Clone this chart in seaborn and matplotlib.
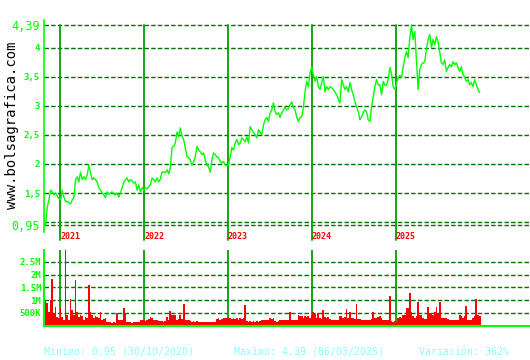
import numpy as np
import pandas as pd
import matplotlib
matplotlib.use("Agg")
import matplotlib.pyplot as plt
import matplotlib.dates as mdates
import seaborn as sns

# ---------------- data ----------------
start_date = "2020-10-30"
end_date = "2025-12-31"

price = [
    0.95, 1.26, 1.38, 1.55, 1.52, 1.47, 1.50, 1.45, 1.40, 1.38,
    1.55, 1.43, 1.35, 1.36, 1.33, 1.31, 1.38, 1.42, 1.73, 1.78,
    1.69, 1.86, 1.73, 1.78, 1.73, 1.81, 1.98, 1.85, 1.73, 1.76,
    1.73, 1.69, 1.59, 1.55, 1.50, 1.47, 1.42, 1.52, 1.48, 1.50,
    1.52, 1.48, 1.47, 1.50, 1.43, 1.50, 1.59, 1.69, 1.73, 1.76,
    1.69, 1.73, 1.71, 1.67, 1.69, 1.55, 1.64, 1.52, 1.59, 1.55,
    1.59, 1.57, 1.61, 1.64, 1.76, 1.73, 1.69, 1.76, 1.69, 1.74,
    1.86, 1.86, 1.85, 1.90, 1.83, 1.93, 2.28, 2.30, 2.36, 2.55,
    2.47, 2.62, 2.48, 2.42, 2.28, 2.12, 2.11, 2.07, 1.98, 2.04,
    2.12, 2.30, 2.24, 2.21, 2.16, 2.19, 2.07, 1.98, 1.95, 1.86,
    2.07, 2.19, 2.16, 2.12, 2.11, 2.04, 2.02, 2.04, 1.98, 1.97,
    1.98, 2.12, 2.28, 2.24, 2.36, 2.42, 2.33, 2.36, 2.45, 2.42,
    2.38, 2.47, 2.36, 2.64, 2.59, 2.54, 2.50, 2.45, 2.59, 2.54,
    2.50, 2.67, 2.76, 2.80, 2.73, 2.88, 2.93, 3.05, 2.90, 2.85,
    2.88, 2.80, 2.88, 2.93, 2.97, 2.93, 2.95, 3.02, 3.07, 2.97,
    2.93, 2.81, 2.73, 2.80, 2.81, 2.97, 3.24, 3.42, 3.33, 3.57,
    3.66, 3.54, 3.42, 3.50, 3.33, 3.28, 3.40, 3.50, 3.24, 3.33,
    3.28, 3.33, 3.31, 3.28, 3.24, 3.19, 3.11, 3.05, 3.45, 3.36,
    3.28, 3.33, 3.24, 3.40, 3.28, 3.19, 3.07, 2.98, 2.90, 2.76,
    2.81, 2.88, 2.93, 2.90, 2.76, 2.73, 2.98, 3.16, 3.33, 3.45,
    3.36, 3.36, 3.19, 3.42, 3.35, 3.36, 3.45, 3.66, 3.55, 3.33,
    3.28, 3.38, 3.49, 3.52, 3.49, 3.66, 3.83, 3.93, 3.83, 4.17,
    4.39, 4.14, 4.28, 3.79, 3.28, 3.62, 3.71, 3.74, 3.76, 3.97,
    4.14, 4.23, 4.00, 4.14, 4.05, 4.19, 4.10, 3.92, 3.74, 3.71,
    3.79, 3.59, 3.66, 3.71, 3.67, 3.76, 3.71, 3.74, 3.66, 3.59,
    3.67, 3.54, 3.49, 3.42, 3.45, 3.36, 3.40, 3.33, 3.45, 3.36,
    3.28, 3.23,
]

volume_m = [
    1.00, 0.87, 0.55, 1.00, 1.84, 0.48, 0.74, 0.35, 0.29, 0.68,
    0.35, 0.22, 3.20, 0.42, 0.22, 1.04, 0.61, 0.42, 1.78, 0.55,
    0.35, 0.42, 0.39, 0.22, 0.35, 0.30, 1.58, 0.55, 0.42, 0.29,
    0.39, 0.35, 0.30, 0.55, 0.22, 0.25, 0.29, 0.12, 0.15, 0.12,
    0.10, 0.12, 0.10, 0.48, 0.22, 0.20, 0.22, 0.70, 0.48, 0.13,
    0.12, 0.13, 0.10, 0.13, 0.12, 0.15, 0.13, 0.22, 0.20, 0.22,
    0.18, 0.22, 0.25, 0.35, 0.30, 0.22, 0.20, 0.22, 0.16, 0.16,
    0.18, 0.15, 0.16, 0.35, 0.20, 0.57, 0.42, 0.40, 0.42, 0.22,
    0.25, 0.40, 0.25, 0.84, 0.22, 0.20, 0.22, 0.16, 0.15, 0.16,
    0.14, 0.16, 0.13, 0.15, 0.13, 0.12, 0.15, 0.13, 0.14, 0.12,
    0.13, 0.15, 0.12, 0.25, 0.29, 0.22, 0.25, 0.30, 0.28, 0.29,
    0.29, 0.30, 0.25, 0.29, 0.25, 0.30, 0.22, 0.29, 0.25, 0.30,
    0.81, 0.17, 0.15, 0.17, 0.12, 0.17, 0.15, 0.17, 0.13, 0.17,
    0.20, 0.23, 0.20, 0.23, 0.22, 0.29, 0.25, 0.29, 0.17, 0.15,
    0.17, 0.23, 0.20, 0.23, 0.20, 0.23, 0.20, 0.55, 0.23, 0.20,
    0.23, 0.22, 0.42, 0.36, 0.36, 0.30, 0.36, 0.33, 0.36, 0.30,
    0.36, 0.55, 0.45, 0.29, 0.51, 0.29, 0.26, 0.59, 0.33, 0.30,
    0.33, 0.26, 0.23, 0.23, 0.20, 0.23, 0.20, 0.38, 0.38, 0.30,
    0.33, 0.65, 0.30, 0.55, 0.29, 0.29, 0.26, 0.85, 0.26, 0.25,
    0.20, 0.23, 0.20, 0.20, 0.23, 0.20, 0.25, 0.55, 0.29, 0.29,
    0.33, 0.38, 0.30, 0.20, 0.23, 0.20, 0.23, 1.15, 0.17, 0.13,
    0.17, 0.15, 0.30, 0.33, 0.30, 0.42, 0.42, 0.68, 0.68, 1.28,
    0.55, 0.36, 0.30, 0.36, 0.94, 0.42, 0.42, 0.29, 0.26, 0.25,
    0.74, 0.49, 0.49, 0.42, 0.55, 0.74, 0.49, 0.94, 0.30, 0.29,
    0.30, 0.29, 0.26, 0.23, 0.22, 0.20, 0.23, 0.22, 0.20, 0.42,
    0.38, 0.29, 0.36, 0.77, 0.23, 0.20, 0.23, 0.29, 0.36, 1.03,
    0.40, 0.36,
]

price_ticks = [0.95, 1.5, 2.0, 2.5, 3.0, 3.5, 4.0, 4.39]
price_tick_labels = ["0,95", "1,5", "2", "2,5", "3", "3,5", "4", "4,39"]
price_grid = [0.95, 1.0, 1.5, 2.0, 2.5, 3.0, 3.5, 4.0, 4.39]
vol_ticks = [0.5, 1.0, 1.5, 2.0, 2.5]
vol_tick_labels = ["500K", "1M", "1.5M", "2M", "2.5M"]
years = ["2021", "2022", "2023", "2024", "2025"]

footer_min = "Minimo: 0,95 (30/10/2020)"
footer_max = "Maximo: 4,39 (06/03/2025)"
footer_var = "Variación: 362%"
site = "www.bolsagrafica.com"

# ---------------- style ----------------
sns.set_style("white")
plt.rcParams["font.family"] = ["DejaVu Sans Mono", "DejaVu Sans"]

LIME = "#00FF00"
GRID = "#007000"
YEARLINE = "#00A000"
W, H = 530, 360

dates = pd.date_range(start_date, end_date, periods=len(price))
df = pd.DataFrame({"date": dates, "price": price, "vol": volume_m})
step_days = (dates[1] - dates[0]).total_seconds() / 86400.0

fig = plt.figure(figsize=(W / 100, H / 100), dpi=100)
fig.patch.set_facecolor("white")

def fx(px):
    return px / W

def fy(py):
    return 1 - py / H

ax = fig.add_axes([fx(44), fy(232), fx(530 - 44), (232 - 20) / H])
axv = fig.add_axes([fx(44), fy(326), fx(530 - 44), (326 - 250) / H])

x_left = pd.Timestamp("2020-10-23")
x_right = pd.Timestamp("2026-08-07")

# price panel
for g in price_grid:
    ax.axhline(g, color=GRID, lw=1.0, dashes=(3.2, 1.6), zorder=1)
for yr in years:
    ax.axvline(pd.Timestamp(f"{yr}-01-01"), ymin=-0.04, ymax=0.976,
               color=YEARLINE, lw=1.3, clip_on=False, zorder=2)
sns.lineplot(data=df, x="date", y="price", ax=ax, color=LIME, lw=1.0, zorder=3)
ax.set_xlim(x_left, x_right)
ax.set_ylim(0.95 - 7 / 58, 4.39 + 5 / 58)
ax.set_yticks(price_ticks, price_tick_labels)
ax.set_xticks([])
ax.set_xlabel("")
ax.set_ylabel("")
for s in ["top", "right", "bottom"]:
    ax.spines[s].set_visible(False)
ax.spines["left"].set_color(LIME)
ax.spines["left"].set_linewidth(1.2)
ax.tick_params(axis="y", length=0, pad=3, colors=LIME)
for lab, v in zip(ax.get_yticklabels(), price_ticks):
    if v in (0.95, 4.39):
        lab.set_fontsize(8.5)
    else:
        lab.set_fontsize(6.5)
        lab.set_fontweight("bold")
ax.set_facecolor("none")

for yr in years:
    d = mdates.date2num(pd.Timestamp(f"{yr}-01-01"))
    ax.annotate(yr, xy=(d, 0), xycoords=("data", "axes fraction"),
                xytext=(0, -4.5), textcoords="offset pixels",
                ha="left", va="center", color="red", fontsize=6,
                fontweight="bold", annotation_clip=False)

# volume panel
for g in vol_ticks:
    axv.axhline(g, color=GRID, lw=1.0, dashes=(3.2, 1.6), zorder=1)
for yr in years:
    axv.axvline(pd.Timestamp(f"{yr}-01-01"), color=YEARLINE, lw=1.3, zorder=2)
axv.bar(df["date"], df["vol"], width=step_days * 1.05, color="red",
        linewidth=0, antialiased=False, zorder=3)
axv.set_xlim(x_left, x_right)
axv.set_ylim(-0.02, 2.97)
axv.set_yticks(vol_ticks, vol_tick_labels)
axv.set_xticks([])
axv.set_xlabel("")
axv.set_ylabel("")
for s in ["top", "right"]:
    axv.spines[s].set_visible(False)
for s in ["left", "bottom"]:
    axv.spines[s].set_color(LIME)
    axv.spines[s].set_linewidth(1.5)
    axv.spines[s].set_zorder(4)
axv.tick_params(axis="y", length=0, pad=2, colors=LIME)
for lab in axv.get_yticklabels():
    lab.set_fontsize(6.5)
    lab.set_fontweight("bold")
axv.set_facecolor("none")

# texts
fig.text(fx(12), fy(125), site, rotation=90, ha="center", va="center",
         color="black", fontsize=10)
FOOT = "#88FFFF"
fig.text(fx(44), fy(352), footer_min, ha="left", va="center", color=FOOT, fontsize=7.2)
fig.text(fx(234), fy(352), footer_max, ha="left", va="center", color=FOOT, fontsize=7.2)
fig.text(fx(419), fy(352), footer_var, ha="left", va="center", color=FOOT, fontsize=7.2)

fig.savefig("out.png", dpi=100, facecolor="white")
